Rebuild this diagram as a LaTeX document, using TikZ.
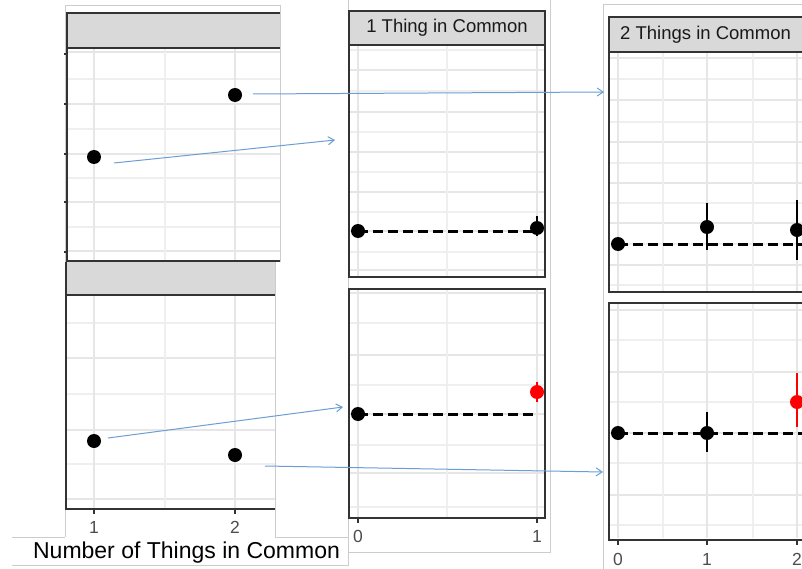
\documentclass[tikz,border=0pt]{standalone}
\usepackage{fontspec}
\setmainfont{Liberation Sans}
\usetikzlibrary{arrows.meta}
\definecolor{stripgray}{HTML}{D9D9D9}
\definecolor{gridmajc}{HTML}{E6E6E6}
\definecolor{gridminc}{HTML}{EFEFEF}
\definecolor{framec}{HTML}{333333}
\definecolor{imgedge}{HTML}{CCCCCC}
\definecolor{arrowblue}{RGB}{108,158,212}
\definecolor{ticktxt}{HTML}{4D4D4D}
\definecolor{ggred}{RGB}{255,0,0}
\begin{document}
\begin{tikzpicture}[x=1pt,y=-1pt,
  imgline/.style={draw=imgedge,line width=1pt},
  frameline/.style={draw=framec,line width=2.2pt},
  gmaj/.style={draw=gridmajc,line width=2.2pt},
  gmin/.style={draw=gridminc,line width=1.2pt},
  dot/.style={circle,fill=black,draw=none,inner sep=0pt,minimum size=14pt},
  reddot/.style={dot,fill=ggred},
  errbar/.style={draw=black,line width=2.5pt},
  rederr/.style={draw=ggred,line width=2.5pt},
  refline/.style={draw=black,line width=3pt,dash pattern=on 10pt off 5pt},
  conn/.style={draw=arrowblue,line width=1pt,-{Straight Barb[length=6pt,width=8pt]}},
  tickmark/.style={draw=framec,line width=2pt},
  ticklab/.style={text=ticktxt,font=\fontsize{17.5}{18}\selectfont,inner sep=0pt},
  striptitle/.style={text=black!90,font=\fontsize{18.5}{20}\selectfont,inner sep=0pt},
  axtitle/.style={text=black,font=\fontsize{23}{25}\selectfont,inner sep=0pt}
]
\useasboundingbox (0,0) rectangle (802,569);
\clip (0,0) rectangle (802,569);
\fill[white] (0,0) rectangle (802,569);

% ---------- axis title box ----------
\fill[white] (12,537) rectangle (348,565);
\draw[imgline] (12,537) -- (348,537) -- (348,565) -- (12,565);
\node[axtitle] (xtitle) at (186.5,552.5) {Number of Things in Common};

% ---------- left top image ----------
\fill[white] (65,6) rectangle (280,262);
\draw[imgline] (65,262) -- (65,6) -- (280,6) -- (280,262);
\foreach \y in {79,129,178,227} \draw[gmin] (68,\y) -- (280,\y);
\foreach \y in {52,104,154,202,251} \draw[gmaj] (68,\y) -- (280,\y);
\draw[gmin] (165,49) -- (165,260);
\foreach \x in {94,235} \draw[gmaj] (\x,49) -- (\x,260);
\fill[stripgray] (67,13) rectangle (280,48);
\draw[frameline] (280,13) -- (67,13) -- (67,261) -- (280,261);
\draw[frameline] (67,48) -- (280,48);
\foreach \y in {54,104,154,202,252} \draw[tickmark] (64,\y) -- (67,\y);
\node[dot] (lt1) at (94,157) {};
\node[dot] (lt2) at (235,95) {};

% ---------- left bottom image ----------
\fill[white] (65,262) rectangle (275,538);
\draw[imgline] (275,262) -- (275,537);
\draw[imgline] (65,509) -- (65,537);
\foreach \y in {323,394,464} \draw[gmin] (67,\y) -- (275,\y);
\foreach \y in {358,430,499} \draw[gmaj] (67,\y) -- (275,\y);
\draw[gmin] (165,296) -- (165,508);
\foreach \x in {94,235} \draw[gmaj] (\x,296) -- (\x,508);
\fill[stripgray] (66,262) rectangle (275,294);
\draw[frameline] (66,262) -- (66,509) -- (275,509);
\draw[frameline] (66,295) -- (275,295);
\foreach \x/\l in {94/1,235/2} {
  \draw[tickmark] (\x,509) -- (\x,514);
  \node[ticklab] (lbx\l) at (\x,527) {\l};
}
\node[dot] (lb1) at (94,441) {};
\node[dot] (lb2) at (235,455) {};

% ---------- middle image ----------
\fill[white] (348,-2) rectangle (550,552);
\draw[imgline] (348,-2) -- (348,552) -- (550,552) -- (550,-2);
% top panel
\foreach \y in {50,91,132,172,212,252} \draw[gmin] (350,\y) -- (544,\y);
\foreach \y in {70,112,152,192,231,270} \draw[gmaj] (350,\y) -- (544,\y);
\draw[gmin] (447,46) -- (447,276);
\foreach \x in {358,537} \draw[gmaj] (\x,46) -- (\x,276);
\fill[stripgray] (349,11) rectangle (545,45);
\draw[frameline] (349,11) rectangle (545,277);
\draw[frameline] (349,45) -- (545,45);
\node[striptitle] (mtitle) at (447,28) {1 Thing in Common};
\coordinate (mt0c) at (358,231);
\coordinate (mt1c) at (537,228);
\draw[refline] (mt0c) -- (mt0c -| mt1c);
\draw[errbar] (537,216) -- (537,236);
\node[dot] (mt0) at (mt0c) {};
\node[dot] (mt1) at (mt1c) {};
% bottom panel
\foreach \y in {323,385,445,507} \draw[gmin] (350,\y) -- (544,\y);
\foreach \y in {293,355,414,473} \draw[gmaj] (350,\y) -- (544,\y);
\draw[gmin] (447,290) -- (447,517);
\foreach \x in {358,537} \draw[gmaj] (\x,290) -- (\x,517);
\draw[frameline] (349,289) rectangle (545,518);
\coordinate (mb0c) at (358,414);
\coordinate (mb1c) at (537,392);
\draw[refline] (mb0c) -- (mb0c -| mb1c);
\draw[rederr] (537,382) -- (537,402);
\node[dot] (mb0) at (mb0c) {};
\node[reddot] (mb1) at (mb1c) {};
\foreach \x/\l in {358/0,537/1} {
  \draw[tickmark] (\x,518) -- (\x,523);
  \node[ticklab] (mbx\l) at (\x,536) {\l};
}

% ---------- right image ----------
\fill[white] (603,5) rectangle (812,575);
\draw[imgline] (603,575) -- (603,5) -- (812,5);
% top panel
\foreach \y in {79,122,163,203,244,285} \draw[gmin] (610,\y) -- (810,\y);
\foreach \y in {58,100,142,183,223,265} \draw[gmaj] (610,\y) -- (810,\y);
\foreach \x in {663,753} \draw[gmin] (\x,53) -- (\x,291);
\foreach \x in {618,707,797} \draw[gmaj] (\x,53) -- (\x,291);
\fill[stripgray] (609,17) rectangle (812,52);
\draw[frameline] (812,17) -- (609,17) -- (609,292) -- (812,292);
\draw[frameline] (609,52) -- (812,52);
\node[striptitle,anchor=west] (rtitle) at (620,35) {2 Things in Common};
\coordinate (rt0c) at (618,244);
\coordinate (rt1c) at (707,227);
\coordinate (rt2c) at (797,230);
\coordinate (rtend) at (812,244);
\draw[refline] (rt0c) -- (rtend);
\draw[errbar] (707,203) -- (707,250);
\draw[errbar] (797,200) -- (797,260);
\node[dot] (rt0) at (rt0c) {};
\node[dot] (rt1) at (rt1c) {};
\node[dot] (rt2) at (rt2c) {};
% bottom panel
\foreach \y in {340,402,463,525} \draw[gmin] (610,\y) -- (810,\y);
\foreach \y in {310,372,433,495} \draw[gmaj] (610,\y) -- (810,\y);
\foreach \x in {663,753} \draw[gmin] (\x,304) -- (\x,538);
\foreach \x in {618,707,797} \draw[gmaj] (\x,304) -- (\x,538);
\draw[frameline] (812,303) -- (609,303) -- (609,540) -- (812,540);
\coordinate (rb0c) at (618,433);
\coordinate (rb1c) at (707,433);
\coordinate (rb2c) at (797,402);
\coordinate (rbend) at (812,433);
\draw[refline] (rb0c) -- (rbend);
\draw[errbar] (707,412) -- (707,452);
\draw[rederr] (797,373) -- (797,427);
\node[dot] (rb0) at (rb0c) {};
\node[dot] (rb1) at (rb1c) {};
\node[reddot] (rb2) at (rb2c) {};
\foreach \x/\l in {618/0,707/1,797/2} {
  \draw[tickmark] (\x,540) -- (\x,545);
  \node[ticklab] (rbx\l) at (\x,559.5) {\l};
}

% ---------- connectors ----------
\coordinate (a1s) at (253,94);
\coordinate (a1e) at (604,92);
\coordinate (a2s) at (114,163);
\coordinate (a2e) at (335,140);
\coordinate (a3s) at (108,438);
\coordinate (a3e) at (343,407);
\coordinate (a4s) at (265,466);
\coordinate (a4e) at (603,472);
\draw[conn] (a1s) -- (a1e);
\draw[conn] (a2s) -- (a2e);
\draw[conn] (a3s) -- (a3e);
\draw[conn] (a4s) -- (a4e);
\end{tikzpicture}
\end{document}
